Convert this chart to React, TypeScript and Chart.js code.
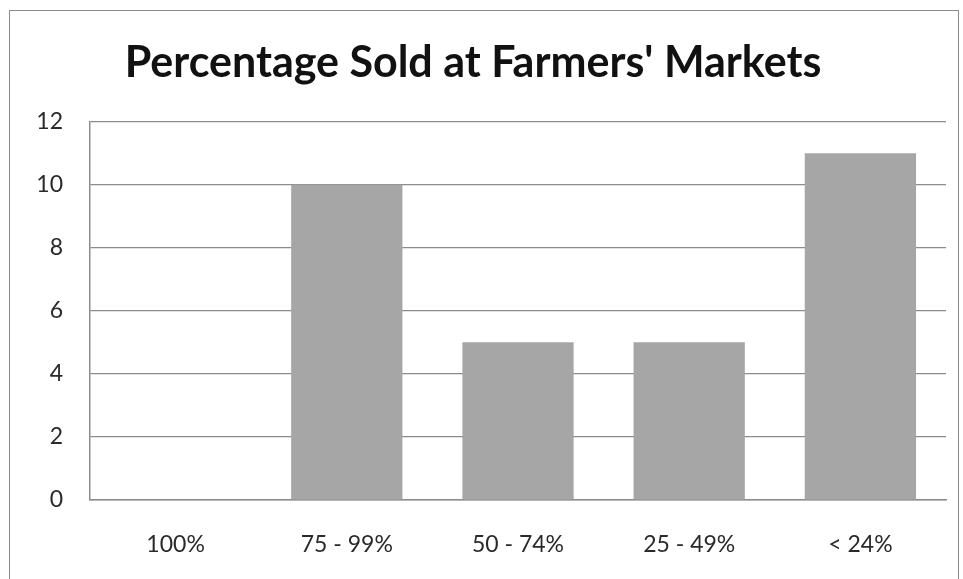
import React, { useEffect, useRef } from "react";
import { Chart, registerables } from "chart.js";

Chart.register(...registerables);

const categories: string[] = ["100%", "75 - 99%", "50 - 74%", "25 - 49%", "< 24%"];
const counts: number[] = [0, 10, 5, 5, 11];
const yTicks: number[] = [0, 2, 4, 6, 8, 10, 12];
const titleText = "Percentage Sold at Farmers' Markets";

export default function App() {
  const ref = useRef<HTMLCanvasElement | null>(null);

  useEffect(() => {
    if (!ref.current) return;
    const chart = new Chart(ref.current, {
      type: "bar",
      data: {
        labels: categories,
        datasets: [
          {
            data: counts,
            backgroundColor: "#a6a6a6",
            borderWidth: 0,
            categoryPercentage: 1,
            barPercentage: 0.65,
          },
        ],
      },
      options: {
        animation: false,
        responsive: false,
        maintainAspectRatio: false,
        layout: { padding: { top: 27, right: 17, bottom: 0, left: 0 } },
        plugins: {
          legend: { display: false },
          tooltip: { enabled: false },
          title: {
            display: true,
            text: titleText,
            color: "#111",
            font: { family: "Lato", size: 43, weight: "bold" },
            padding: { top: 10, bottom: 33 },
          },
        },
        scales: {
          x: {
            grid: { display: false, drawTicks: false },
            border: { display: true, color: "#8c8c8c", width: 1.5 },
            ticks: {
              color: "#2a2a2a",
              font: { family: "Lato", size: 23 },
              padding: 31,
            },
            afterFit: (s: any) => {
              s.height = 79;
            },
          },
          y: {
            min: 0,
            max: 12,
            afterBuildTicks: (s: any) => {
              s.ticks = yTicks.map((v) => ({ value: v }));
            },
            grid: { color: "#8c8c8c", lineWidth: 1.2, drawTicks: false },
            border: { display: true, color: "#8c8c8c", width: 1.5 },
            ticks: {
              color: "#2a2a2a",
              font: { family: "Lato", size: 23 },
              padding: 27,
            },
            afterFit: (s: any) => {
              s.width = 90;
            },
          },
        },
      },
    });
    return () => chart.destroy();
  }, []);

  return (
    <div style={{ position: "absolute", left: 0, top: 0, width: 963, height: 579, background: "#fff" }}>
      <div
        style={{
          position: "absolute",
          left: 9,
          top: 10,
          width: 950,
          height: 575,
          border: "1.5px solid #8a8a8a",
          boxSizing: "border-box",
        }}
      />
      <canvas ref={ref} width={963} height={579} style={{ position: "absolute", left: 0, top: 0 }} />
    </div>
  );
}
